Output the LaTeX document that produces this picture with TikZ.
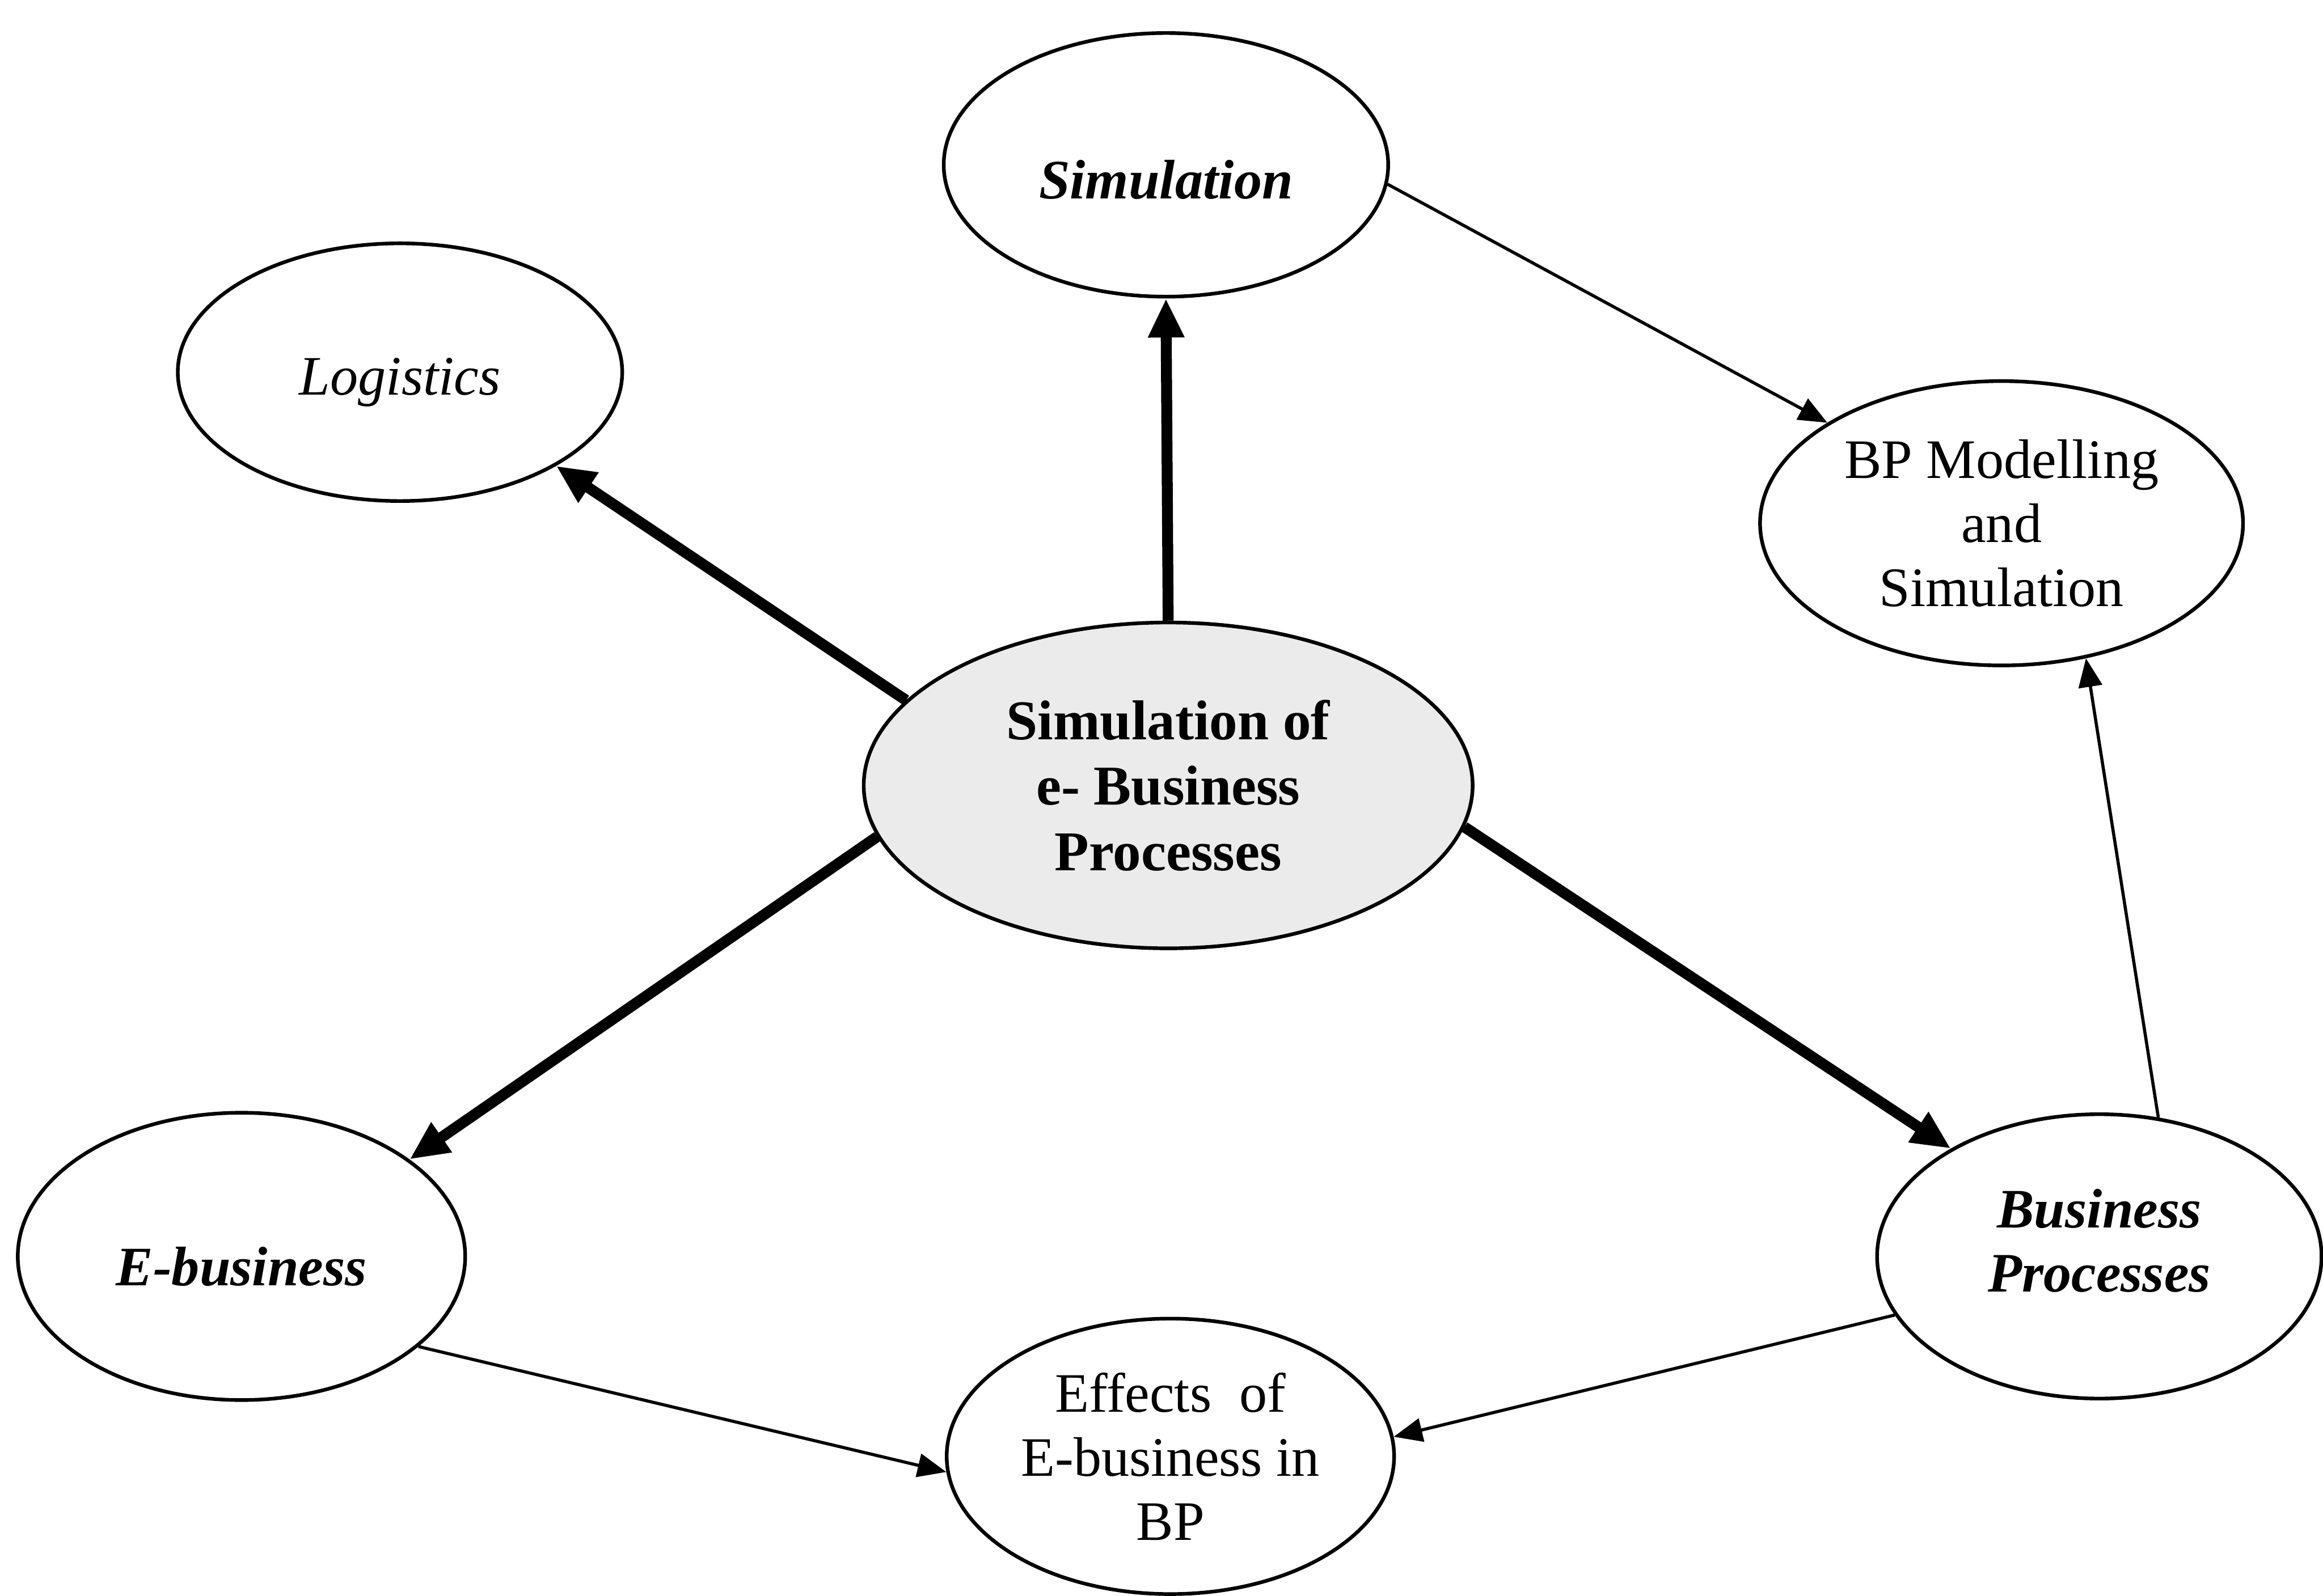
\documentclass[tikz,border=0pt]{standalone}
\usepackage{fontspec}
\setmainfont{Liberation Serif}
\usetikzlibrary{arrows.meta,shapes.geometric}

% move a label up or down inside its ellipse without changing the box size
\newcommand{\nudge}[2]{\raisebox{#1}[\height][\depth]{#2}}

\begin{document}
\begin{tikzpicture}[
  topic/.style={ellipse, draw=black, line width=0.7pt, inner sep=0pt,
                align=center, font=\fontsize{10.7}{12.3}\selectfont},
  hub/.style={topic, fill=black!8, font=\fontsize{10.8}{12.6}\selectfont\bfseries},
  strong/.style={line width=2.1pt, -{Triangle[length=7.5pt,width=6.5pt]}},
  weak/.style={line width=0.6pt, -{Triangle[length=5.5pt,width=4.5pt]}}
]
\useasboundingbox (0,0) rectangle (15.68,10.773);

% concept nodes
\node[hub, minimum width=4.11cm, minimum height=2.20cm] (ctr) at (7.885,5.47)
  {Simulation of\\e- Business\\Processes};
\node[topic, minimum width=3.00cm, minimum height=1.78cm] (sim) at (7.87,9.66)
  {\nudge{-2.9pt}{\bfseries\itshape Simulation}};
\node[topic, minimum width=3.00cm, minimum height=1.74cm] (log) at (2.70,8.26)
  {\nudge{-2pt}{\itshape Logistics}};
\node[topic, minimum width=3.26cm, minimum height=1.92cm] (bpm) at (13.51,7.24)
  {BP Modelling\\and\\Simulation};
\node[topic, minimum width=3.02cm, minimum height=1.94cm] (eb) at (1.63,2.29)
  {\nudge{-2pt}{\bfseries\itshape E-business}};
\node[topic, minimum width=3.00cm, minimum height=1.92cm] (bp) at (14.17,2.29)
  {\nudge{3pt}{\bfseries\itshape Business}\\\nudge{3pt}{\bfseries\itshape Processes}};
\node[topic, minimum width=3.02cm, minimum height=1.86cm] (eff) at (7.90,0.94)
  {Effects~ of\\E-business in\\BP};

% main relations from the central topic
\draw[strong] (ctr.90)    -- (sim.-90);
\draw[strong] (ctr.162)   -- (log.-31.4);
\draw[strong] (ctr.190.7) -- (eb.30.2);
\draw[strong] (ctr.-8.9)  -- (bp.144.7);

% secondary relations
\draw[weak] (sim.-5.3)  -- (bpm.150.3);
\draw[weak] (bp.67.2)   -- (bpm.-58.7);
\draw[weak] (eb.-27.7)  -- (eff.184.9);
\draw[weak] (bp.196.5)  -- (eff.5.5);
\end{tikzpicture}
\end{document}
